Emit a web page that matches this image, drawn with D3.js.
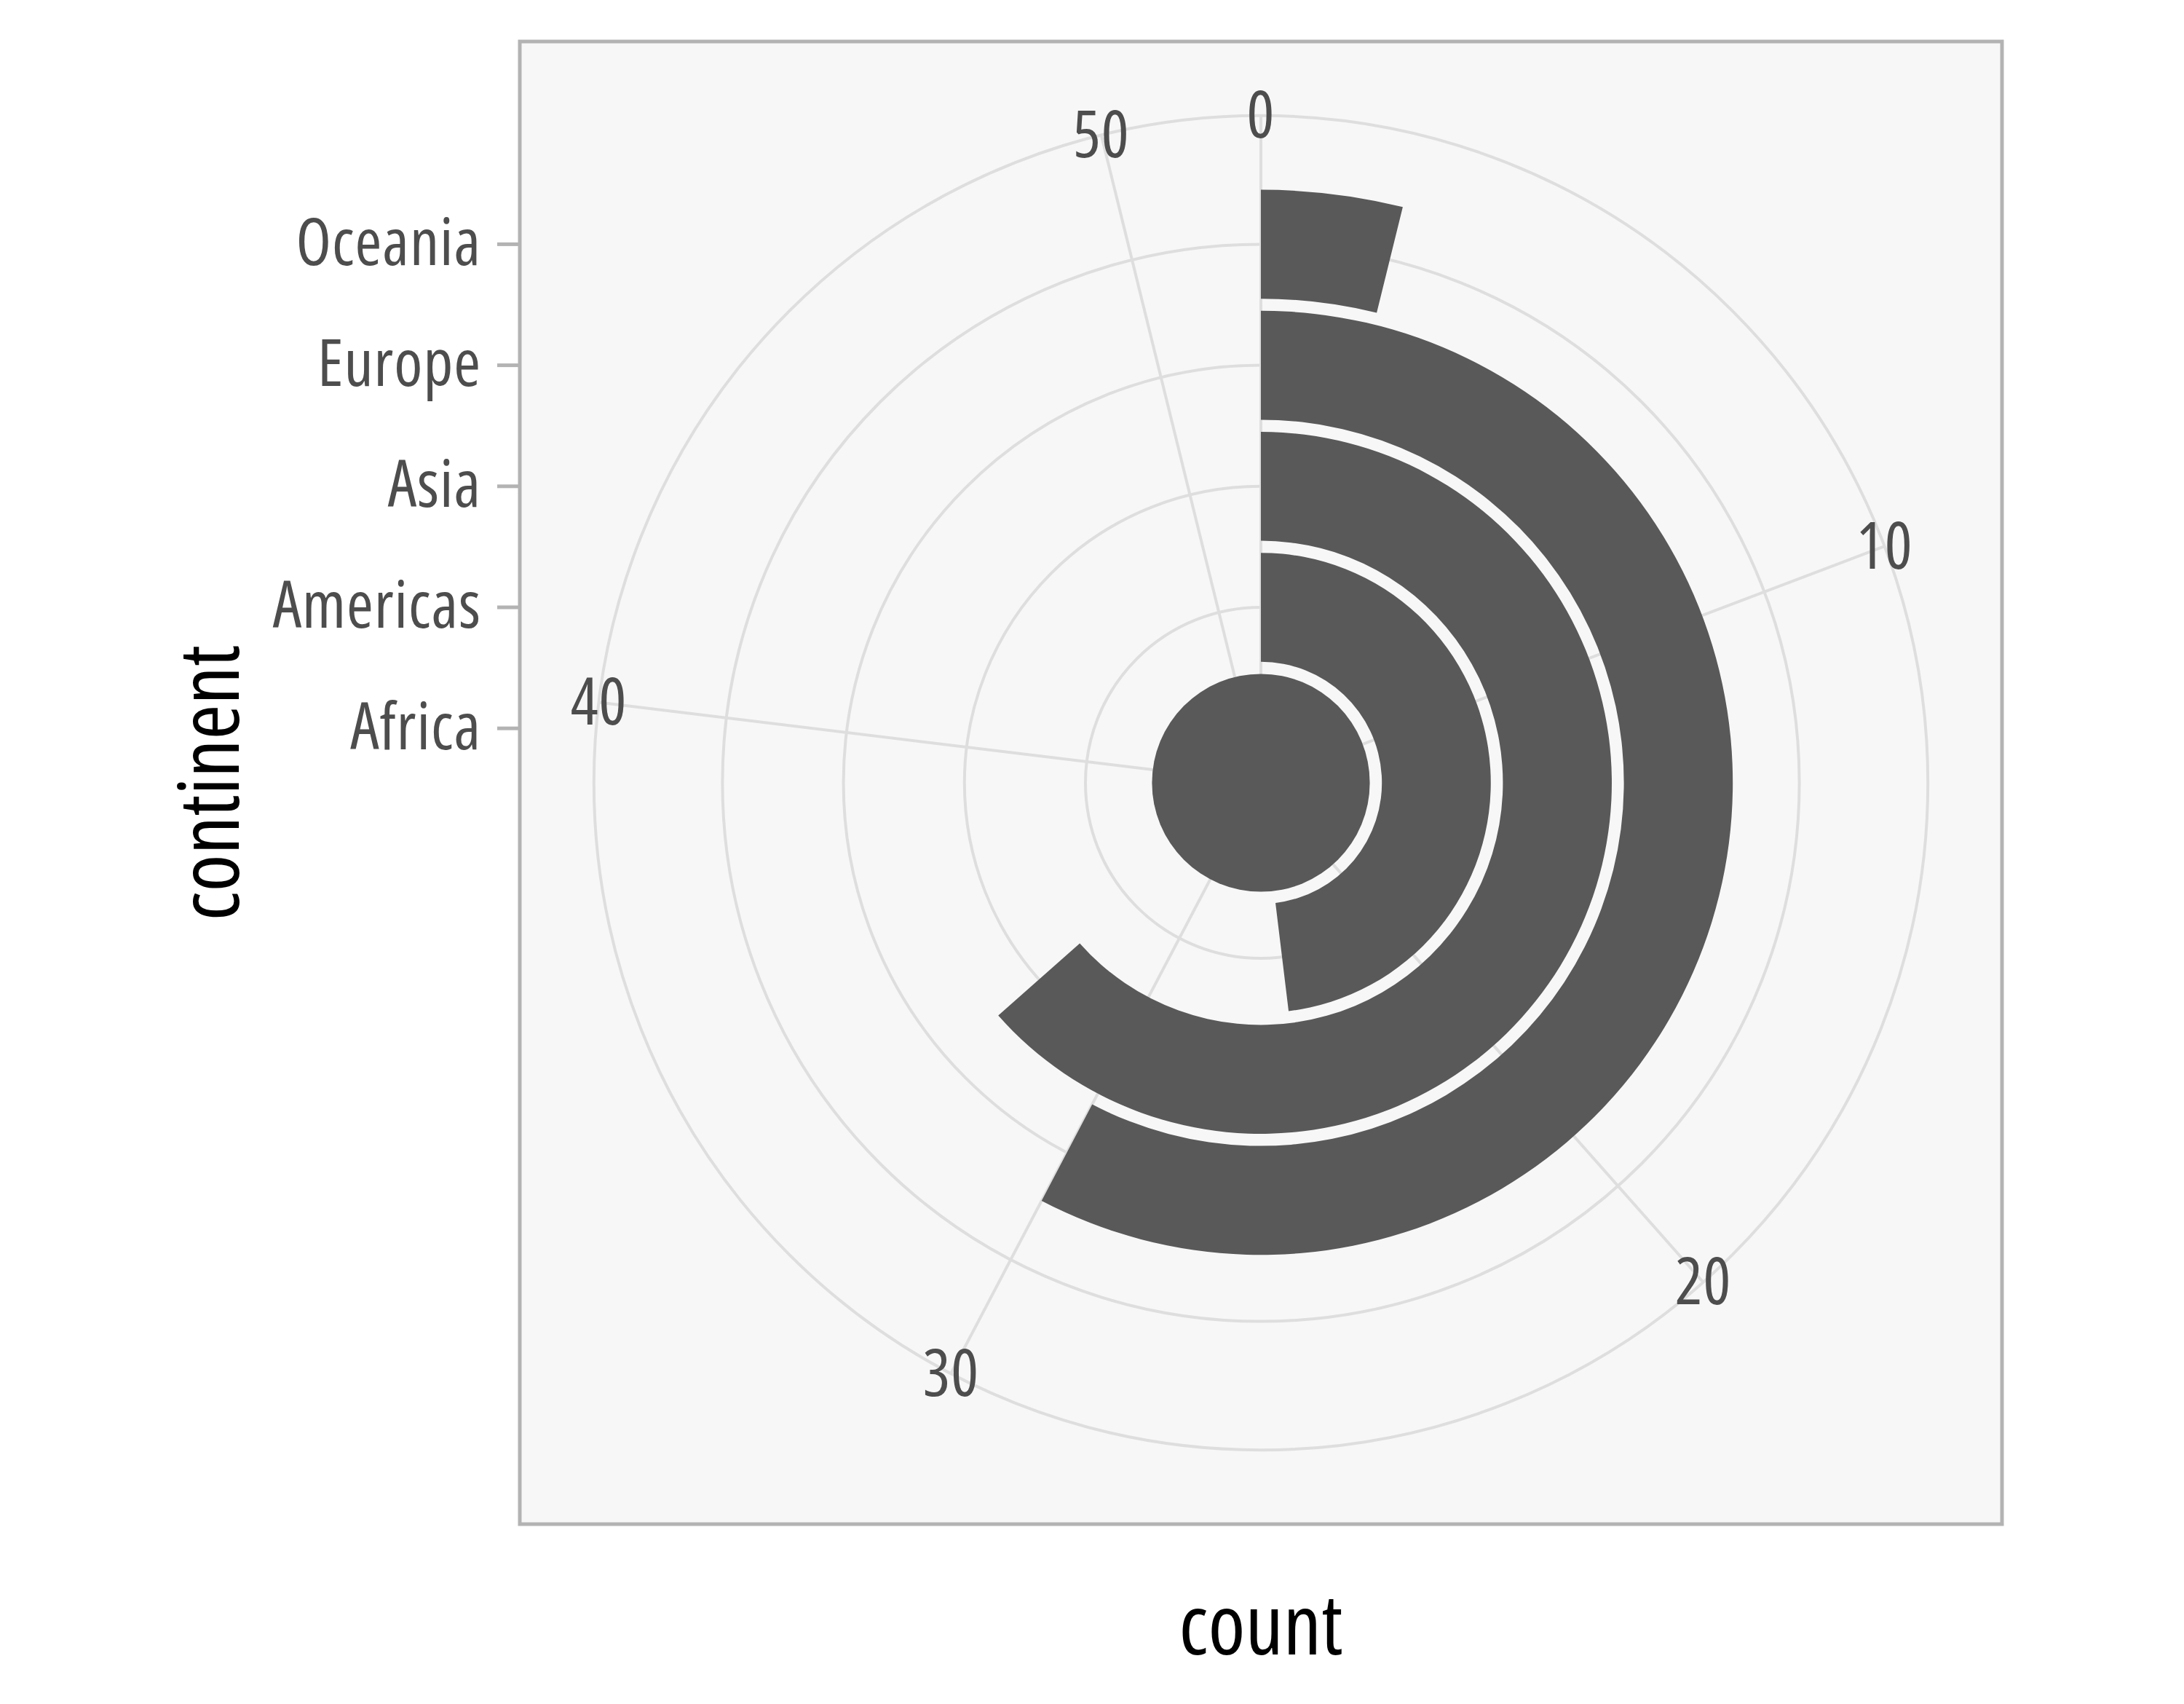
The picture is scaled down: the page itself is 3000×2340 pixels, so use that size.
<!DOCTYPE html>
<html>
<head>
<meta charset="utf-8">
<script src="https://cdn.jsdelivr.net/npm/d3@7"></script>
<style>
  body { margin: 0; background: #ffffff; }
  text { font-family: "Open Sans", "DejaVu Sans Condensed", sans-serif; font-stretch: 75%; }
</style>
</head>
<body>
<svg id="chart" width="3000" height="2340"></svg>
<script>
// gapminder 2007: countries per continent
var continents = ["Africa", "Americas", "Asia", "Europe", "Oceania"];
var counts = [52, 25, 33, 30, 2];
var countBreaks = [0, 10, 20, 30, 40, 50];

var svg = d3.select("#chart");

// panel box
var panel = { left: 714, top: 57, size: 2036 };
var cx = panel.left + panel.size / 2,
    cy = panel.top + panel.size / 2;
var rBars = 0.4 * panel.size,
    rOuter = 0.45 * panel.size;

var theta = d3.scaleLinear()
    .domain([0, d3.max(counts)])
    .range([0, 2 * Math.PI]);

// radial position of each continent
var r = d3.scaleBand()
    .domain(continents)
    .range([0, rBars])
    .paddingInner(0.1)
    .paddingOuter(0);

// same thing, but vertical for the left axis
var yAxisScale = d3.scaleBand()
    .domain(continents)
    .range([cy, cy - rBars])
    .paddingInner(0.1)
    .paddingOuter(0);

var gridColor = "#dedede";
var labelSize = 89;

svg.append("rect")
    .attr("x", panel.left)
    .attr("y", panel.top)
    .attr("width", panel.size)
    .attr("height", panel.size)
    .attr("fill", "#f7f7f7");

var g = svg.append("g").attr("transform", "translate(" + cx + "," + cy + ")");

// circles at the continent positions and the outer ring
var ringRadii = continents.map(function(c) { return r(c) + r.bandwidth() / 2; });
ringRadii.push(rOuter);
g.selectAll(".ring")
    .data(ringRadii)
    .enter().append("circle")
    .attr("class", "ring")
    .attr("r", function(d) { return d; })
    .attr("fill", "none")
    .attr("stroke", gridColor)
    .attr("stroke-width", 4);

// spokes for the count breaks
g.selectAll(".spoke")
    .data(countBreaks)
    .enter().append("line")
    .attr("class", "spoke")
    .attr("x1", 0)
    .attr("y1", 0)
    .attr("x2", function(d) { return rOuter * Math.sin(theta(d)); })
    .attr("y2", function(d) { return -rOuter * Math.cos(theta(d)); })
    .attr("stroke", gridColor)
    .attr("stroke-width", 4);

var arc = d3.arc()
    .innerRadius(function(d) { return r(d.continent); })
    .outerRadius(function(d) { return r(d.continent) + r.bandwidth(); })
    .startAngle(0)
    .endAngle(function(d) { return theta(d.count); });

var bars = continents.map(function(c, i) { return { continent: c, count: counts[i] }; });

g.selectAll(".bar")
    .data(bars)
    .enter().append("path")
    .attr("class", "bar")
    .attr("d", arc)
    .attr("fill", "#595959");

// theta labels
g.selectAll(".theta-label")
    .data(countBreaks)
    .enter().append("text")
    .attr("class", "theta-label")
    .attr("x", function(d) { return rOuter * Math.sin(theta(d)); })
    .attr("y", function(d) { return -rOuter * Math.cos(theta(d)) - 4; })
    .attr("text-anchor", "middle")
    .attr("dominant-baseline", "central")
    .attr("font-size", labelSize)
    .attr("letter-spacing", 1)
    .attr("fill", "#4d4d4d")
    .text(function(d) { return d; });

// panel border
svg.append("rect")
    .attr("x", panel.left)
    .attr("y", panel.top)
    .attr("width", panel.size)
    .attr("height", panel.size)
    .attr("fill", "none")
    .attr("stroke", "#b3b3b3")
    .attr("stroke-width", 5);

// left axis with continent names
var yAxis = svg.append("g")
    .attr("transform", "translate(" + (panel.left - 2) + ",0)")
    .call(d3.axisLeft(yAxisScale).tickSize(29).tickPadding(22));
yAxis.select(".domain").remove();
yAxis.selectAll(".tick line").attr("stroke", "#b3b3b3").attr("stroke-width", 5);
yAxis.selectAll(".tick text")
    .attr("font-size", labelSize)
    .attr("letter-spacing", 1)
    .attr("fill", "#4d4d4d")
    .attr("font-family", null);

// axis titles
svg.append("text")
    .attr("x", cx)
    .attr("y", 2272)
    .attr("text-anchor", "middle")
    .attr("font-size", 116)
    .attr("fill", "#000000")
    .text("count");

svg.append("text")
    .attr("transform", "translate(328," + cy + ") rotate(-90)")
    .attr("text-anchor", "middle")
    .attr("font-size", 116)
    .attr("fill", "#000000")
    .text("continent");
</script>
</body>
</html>
